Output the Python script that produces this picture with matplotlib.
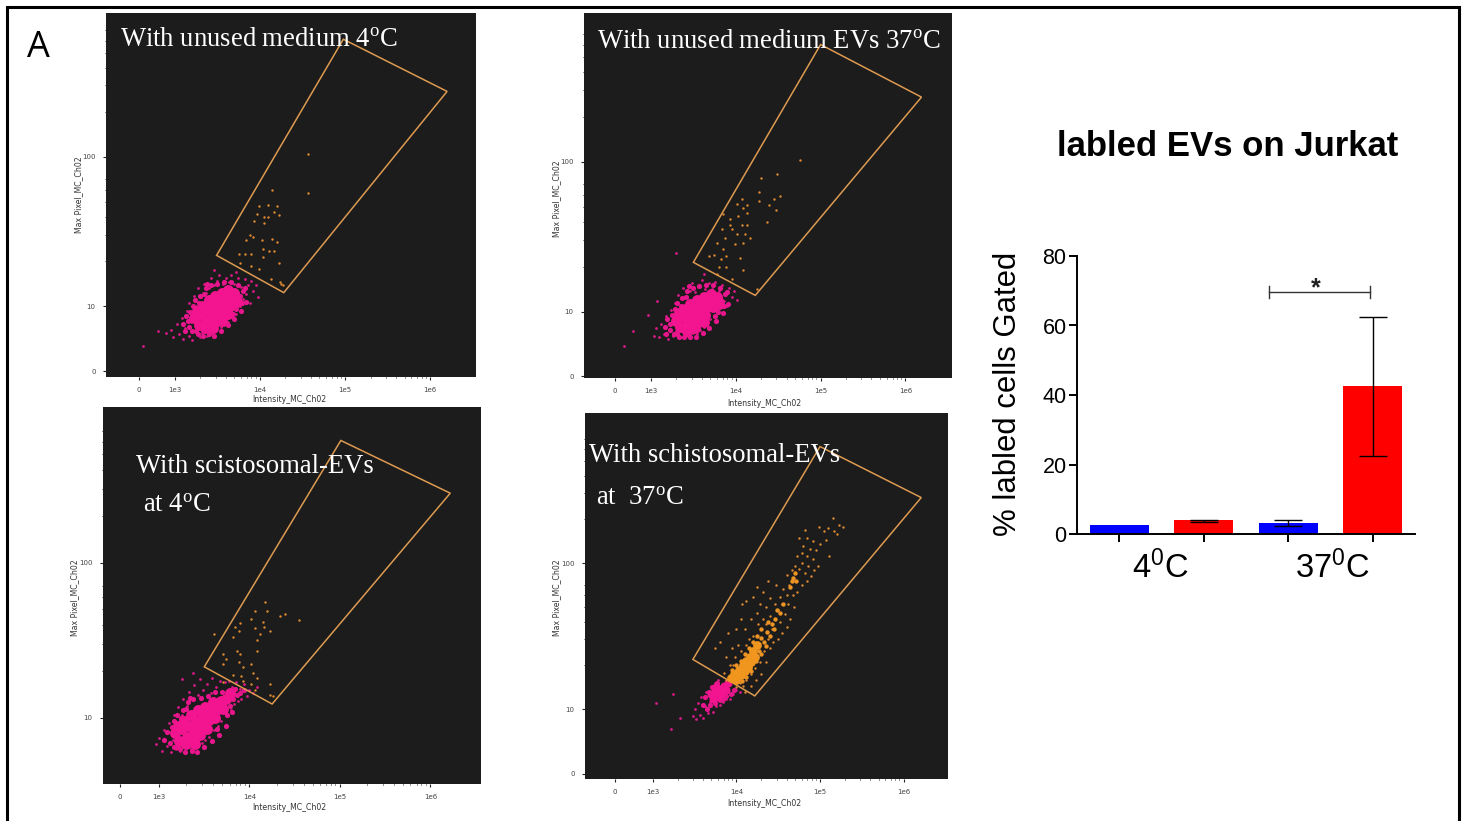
import matplotlib
matplotlib.use('Agg')
import numpy as np
import matplotlib.pyplot as plt
from matplotlib.patches import Polygon, Rectangle

W, H = 1467, 821

# bar chart values
bar_pos = [0, 1, 2, 3]
bar_vals = [2.6, 4.0, 3.3, 42.5]
bar_err_low = [0, 0.6, 0.9, 20.1]
bar_err_high = [0, 0.1, 0.8, 20.0]
bar_colors = ['#0000ff', '#ff0000', '#0000ff', '#ff0000']
y_ticks = [0, 20, 40, 60, 80]
sig_x = [1.775, 2.97]
sig_y = 69.6

# flow panels: log10(intensity), log10(max pixel)
gate_a = [(3.49, 1.34), (4.98, 2.79), (6.20, 2.44), (4.28, 1.09)]
gate_b = [(3.50, 1.33), (5.00, 2.78), (6.19, 2.43), (4.23, 1.11)]
gate_c = [(3.50, 1.33), (5.01, 2.79), (6.22, 2.45), (4.25, 1.09)]
gate_d = [(3.48, 1.34), (5.00, 2.80), (6.21, 2.45), (4.22, 1.09)]

core_a = [(3.22, 0.92), (3.28, 0.87), (3.30, 0.95), (3.33, 1.00), (3.36, 0.90), (3.38, 0.97), (3.40, 1.04),
          (3.42, 0.87), (3.44, 0.94), (3.46, 1.00), (3.47, 1.07), (3.49, 0.90), (3.51, 0.97), (3.53, 1.03),
          (3.55, 1.09), (3.57, 0.95), (3.58, 1.00), (3.60, 1.05), (3.63, 1.11), (3.65, 1.00), (3.67, 1.05),
          (3.70, 1.09), (3.35, 0.85), (3.45, 0.85), (3.55, 0.90), (3.26, 0.97), (3.73, 1.03), (3.62, 0.95)]
mid_a = [(3.10, 0.88), (3.13, 0.93), (3.16, 0.86), (3.18, 0.96), (3.20, 0.83), (3.21, 1.00), (3.24, 1.04),
         (3.27, 0.81), (3.30, 1.07), (3.33, 0.80), (3.36, 1.12), (3.40, 0.81), (3.42, 1.14), (3.46, 0.80),
         (3.50, 1.15), (3.54, 0.83), (3.58, 1.16), (3.62, 0.87), (3.66, 1.16), (3.70, 0.91), (3.74, 1.14),
         (3.78, 0.97), (3.80, 1.10), (3.84, 1.03), (3.72, 0.98), (3.76, 1.07), (3.15, 0.90), (3.12, 0.83),
         (3.68, 0.95), (3.79, 1.02), (3.83, 1.12), (3.28, 1.02), (3.34, 1.08), (3.25, 0.83), (3.38, 1.15)]
edge_a = [(2.90, 0.82), (2.95, 0.84), (2.98, 0.79), (3.02, 0.88), (3.05, 0.81), (3.08, 0.92), (3.10, 0.78),
          (3.12, 0.85), (3.14, 0.97), (3.16, 0.80), (3.17, 1.02), (3.19, 0.89), (3.20, 0.77), (3.22, 1.07),
          (3.24, 0.83), (3.25, 1.00), (3.27, 1.12), (3.29, 0.79), (3.31, 1.06), (3.32, 0.82), (3.34, 1.15),
          (3.36, 1.09), (3.38, 0.80), (3.40, 1.12), (3.42, 1.19), (3.44, 0.82), (3.46, 1.14), (3.48, 0.84),
          (3.50, 1.17), (3.52, 1.21), (3.54, 0.86), (3.56, 1.15), (3.58, 0.87), (3.60, 1.19), (3.62, 0.89),
          (3.64, 1.16), (3.66, 1.21), (3.68, 0.92), (3.70, 1.15), (3.72, 0.95), (3.74, 1.19), (3.76, 1.00),
          (3.78, 1.13), (3.80, 1.05), (3.82, 1.18), (3.84, 1.08), (3.86, 1.14), (3.88, 1.02), (3.90, 1.17),
          (3.92, 1.10), (3.95, 1.14), (3.98, 1.06), (2.80, 0.83), (2.62, 0.73), (3.72, 1.23), (3.46, 1.24)]
orange_a = [(4.14, 1.78), (4.10, 1.68), (3.99, 1.67), (4.20, 1.67), (4.16, 1.63), (3.96, 1.62), (4.05, 1.60),
            (4.09, 1.60), (4.22, 1.61), (3.93, 1.57), (4.05, 1.56), (3.88, 1.48), (3.92, 1.46), (3.84, 1.44),
            (4.02, 1.44), (4.14, 1.45), (4.20, 1.43), (4.03, 1.38), (4.11, 1.37), (4.16, 1.37), (3.75, 1.35),
            (3.82, 1.35), (3.90, 1.35), (4.03, 1.33), (3.89, 1.27), (3.99, 1.25), (4.22, 1.29), (3.77, 1.29),
            (4.13, 1.18), (4.57, 2.02), (4.56, 1.76), (4.25, 1.15), (4.23, 1.16), (4.27, 1.14)]

core_b = [(3.30, 0.94), (3.34, 0.90), (3.36, 0.97), (3.40, 1.02), (3.42, 0.92), (3.44, 0.98), (3.46, 1.05),
          (3.48, 0.90), (3.50, 0.96), (3.52, 1.02), (3.54, 1.08), (3.56, 0.93), (3.58, 0.99), (3.60, 1.05),
          (3.62, 1.10), (3.64, 0.98), (3.66, 1.03), (3.68, 1.08), (3.71, 1.12), (3.73, 1.03), (3.75, 1.07),
          (3.78, 1.10), (3.42, 0.87), (3.52, 0.89), (3.62, 0.93), (3.33, 0.99), (3.80, 1.05)]
mid_b = [(3.16, 0.90), (3.19, 0.95), (3.22, 0.88), (3.25, 0.98), (3.27, 0.85), (3.28, 1.02), (3.31, 1.06),
         (3.33, 0.83), (3.36, 1.09), (3.39, 0.83), (3.42, 1.14), (3.46, 0.83), (3.49, 1.16), (3.53, 0.83),
         (3.57, 1.17), (3.61, 0.86), (3.65, 1.18), (3.69, 0.89), (3.73, 1.18), (3.77, 0.94), (3.81, 1.16),
         (3.85, 0.99), (3.87, 1.12), (3.91, 1.05), (3.79, 1.00), (3.83, 1.08), (3.22, 0.92), (3.18, 0.85),
         (3.75, 0.97), (3.86, 1.04), (3.90, 1.13), (3.35, 1.04), (3.41, 1.10), (3.31, 0.85), (3.45, 1.17)]
edge_b = [(3.03, 0.84), (3.06, 0.89), (3.09, 0.83), (3.12, 0.92), (3.15, 0.85), (3.18, 0.97), (3.20, 0.82),
          (3.22, 0.88), (3.24, 1.01), (3.26, 0.84), (3.28, 1.06), (3.30, 0.87), (3.32, 1.11), (3.34, 0.83),
          (3.36, 1.04), (3.38, 1.16), (3.40, 0.85), (3.42, 1.10), (3.44, 0.84), (3.46, 1.14), (3.48, 1.19),
          (3.50, 0.86), (3.52, 1.13), (3.54, 0.85), (3.56, 1.17), (3.58, 0.88), (3.60, 1.21), (3.62, 0.90),
          (3.64, 1.15), (3.66, 0.92), (3.68, 1.19), (3.70, 0.95), (3.72, 1.15), (3.74, 0.97), (3.76, 1.20),
          (3.78, 1.00), (3.80, 1.14), (3.82, 1.03), (3.84, 1.18), (3.86, 1.07), (3.88, 1.13), (3.90, 1.04),
          (3.92, 1.16), (3.95, 1.10), (3.98, 1.14), (4.02, 1.08), (2.68, 0.77), (2.79, 0.87), (2.97, 0.98),
          (3.07, 1.07), (3.30, 1.39), (3.62, 1.25)]
orange_b = [(4.76, 2.01), (4.49, 1.92), (4.30, 1.89), (4.27, 1.80), (4.52, 1.77), (4.27, 1.74), (4.45, 1.75),
            (4.07, 1.75), (4.13, 1.71), (4.01, 1.72), (4.39, 1.71), (4.47, 1.68), (4.13, 1.66), (4.09, 1.69),
            (3.85, 1.65), (3.93, 1.62), (4.03, 1.64), (4.37, 1.60), (4.07, 1.58), (3.93, 1.58), (3.84, 1.55),
            (3.95, 1.55), (4.13, 1.58), (4.01, 1.52), (4.11, 1.52), (3.87, 1.49), (3.78, 1.46), (4.17, 1.49),
            (3.85, 1.42), (3.99, 1.45), (4.09, 1.46), (3.74, 1.38), (3.89, 1.37), (4.05, 1.36), (3.68, 1.37),
            (3.80, 1.30), (3.89, 1.30), (4.09, 1.28), (3.82, 1.35), (3.78, 1.25), (3.95, 1.22), (4.25, 1.15)]

core_c = [(3.18, 0.90), (3.22, 0.85), (3.25, 0.93), (3.28, 0.98), (3.31, 0.88), (3.33, 0.95), (3.35, 1.02),
          (3.37, 0.86), (3.39, 0.92), (3.41, 0.98), (3.43, 1.05), (3.45, 0.89), (3.47, 0.95), (3.49, 1.01),
          (3.51, 1.07), (3.53, 0.93), (3.55, 0.99), (3.57, 1.04), (3.60, 1.10), (3.62, 1.00), (3.65, 1.06),
          (3.68, 1.11), (3.71, 1.06), (3.74, 1.12), (3.78, 1.16), (3.30, 0.83), (3.40, 0.83), (3.21, 0.95)]
mid_c = [(3.06, 0.86), (3.09, 0.91), (3.12, 0.84), (3.14, 0.94), (3.16, 0.81), (3.17, 0.98), (3.20, 1.02),
         (3.23, 0.80), (3.26, 1.05), (3.29, 0.78), (3.32, 1.10), (3.36, 0.79), (3.38, 1.12), (3.42, 0.78),
         (3.46, 1.13), (3.50, 0.81), (3.54, 1.14), (3.58, 0.85), (3.62, 1.17), (3.66, 0.89), (3.70, 1.17),
         (3.74, 0.95), (3.78, 1.08), (3.82, 1.12), (3.86, 1.15), (3.90, 1.16), (3.94, 1.18), (3.81, 1.04),
         (3.64, 0.93), (3.75, 1.02), (3.84, 1.19), (3.24, 1.00), (3.30, 1.06), (3.21, 0.81), (3.34, 1.13)]
edge_c = [(2.97, 0.83), (3.00, 0.87), (3.03, 0.79), (3.06, 0.92), (3.09, 0.82), (3.11, 0.97), (3.13, 0.78),
          (3.15, 0.86), (3.17, 1.02), (3.19, 0.80), (3.21, 1.07), (3.23, 0.79), (3.25, 1.02), (3.27, 1.12),
          (3.29, 0.81), (3.31, 1.08), (3.33, 1.17), (3.35, 0.80), (3.37, 1.12), (3.39, 1.21), (3.41, 0.82),
          (3.43, 1.15), (3.45, 1.25), (3.47, 0.84), (3.49, 1.18), (3.51, 0.86), (3.53, 1.22), (3.55, 0.88),
          (3.57, 1.16), (3.59, 1.26), (3.61, 0.92), (3.63, 1.20), (3.65, 0.95), (3.67, 1.24), (3.69, 0.98),
          (3.71, 1.17), (3.73, 1.23), (3.75, 1.01), (3.77, 1.24), (3.79, 1.05), (3.81, 1.20), (3.83, 1.09),
          (3.85, 1.23), (3.87, 1.11), (3.89, 1.19), (3.91, 1.12), (3.94, 1.22), (3.97, 1.14), (4.00, 1.18),
          (4.04, 1.16), (4.08, 1.20), (3.25, 1.25), (3.37, 1.29)]
orange_c = [(4.17, 1.75), (4.06, 1.69), (4.19, 1.69), (4.34, 1.66), (4.39, 1.67), (4.55, 1.63), (4.02, 1.64),
            (4.15, 1.62), (3.90, 1.61), (3.84, 1.59), (4.06, 1.58), (4.16, 1.59), (4.23, 1.56), (3.88, 1.56),
            (4.12, 1.54), (3.82, 1.52), (4.08, 1.50), (3.61, 1.54), (3.86, 1.43), (3.71, 1.41), (3.90, 1.41),
            (4.08, 1.43), (3.74, 1.38), (3.88, 1.36), (3.71, 1.35), (3.93, 1.33), (4.02, 1.35), (3.82, 1.28),
            (3.91, 1.27), (4.04, 1.29), (4.08, 1.26), (3.93, 1.24), (4.02, 1.22), (4.23, 1.22), (3.71, 1.23),
            (4.06, 1.18), (4.23, 1.15), (4.26, 1.14)]

core_d = [(3.72, 1.07), (3.75, 1.12), (3.78, 1.08), (3.80, 1.14), (3.83, 1.11), (3.85, 1.16), (3.88, 1.13),
          (3.90, 1.18), (3.76, 1.15), (3.70, 1.10)]
mid_d = [(3.60, 1.03), (3.63, 1.08), (3.65, 1.00), (3.67, 1.12), (3.69, 1.03), (3.71, 1.15), (3.74, 1.04),
         (3.77, 1.18), (3.80, 1.06), (3.84, 1.07), (3.88, 1.09), (3.93, 1.10), (3.97, 1.13)]
edge_d = [(3.48, 0.95), (3.50, 1.00), (3.52, 0.93), (3.54, 1.04), (3.56, 0.96), (3.58, 1.08), (3.60, 0.94),
          (3.62, 1.02), (3.64, 1.12), (3.66, 0.97), (3.68, 1.05), (3.70, 1.15), (3.72, 0.98), (3.74, 1.18),
          (3.76, 1.02), (3.78, 1.20), (3.80, 1.03), (3.84, 1.05), (3.88, 1.07), (3.92, 1.07), (3.96, 1.10),
          (4.00, 1.13), (4.04, 1.12), (3.04, 1.04), (3.24, 1.10), (3.22, 0.86), (3.33, 0.94)]
dense_d = [(3.93, 1.21), (3.97, 1.24), (4.00, 1.20), (4.03, 1.27), (4.05, 1.23), (4.08, 1.30), (4.10, 1.26),
           (4.12, 1.33), (4.14, 1.29), (4.16, 1.36), (4.18, 1.32), (4.20, 1.40), (4.22, 1.36), (4.25, 1.44)]
spread_d = [(3.95, 1.27), (4.00, 1.30), (4.05, 1.33), (4.07, 1.19), (4.12, 1.22), (4.18, 1.26), (4.10, 1.38),
            (4.15, 1.42), (4.20, 1.46), (4.24, 1.33), (4.30, 1.38), (4.35, 1.43), (4.25, 1.50), (4.30, 1.55),
            (4.40, 1.50), (4.45, 1.55), (4.38, 1.60), (4.27, 1.40), (4.30, 1.49), (4.33, 1.46), (4.37, 1.53),
            (4.42, 1.58), (4.46, 1.62), (4.52, 1.66), (4.68, 1.90), (4.71, 1.88), (4.66, 1.88), (4.70, 1.93),
            (4.64, 1.84), (4.48, 1.68), (4.56, 1.72)]
orange_d = [(5.15, 2.31), (5.23, 2.26), (5.17, 2.22), (5.28, 2.25), (5.10, 2.24), (5.20, 2.20), (5.05, 2.22),
            (4.99, 2.25), (4.82, 2.23), (4.75, 2.17), (4.85, 2.17), (4.92, 2.15), (5.00, 2.13), (5.07, 2.16),
            (4.80, 2.12), (4.88, 2.10), (4.95, 2.09), (5.11, 2.05), (4.78, 2.07), (4.84, 2.05), (4.92, 2.03),
            (4.72, 2.05), (4.79, 2.00), (4.86, 1.98), (4.93, 1.95), (4.98, 1.98), (4.75, 1.96), (4.70, 1.98),
            (4.66, 1.95), (4.82, 1.93), (4.89, 1.91), (4.60, 1.92), (4.63, 1.85), (4.78, 1.85), (4.84, 1.88),
            (4.56, 1.82), (4.60, 1.78), (4.68, 1.78), (4.73, 1.80), (4.52, 1.77), (4.47, 1.85), (4.55, 1.72),
            (4.62, 1.72), (4.69, 1.70), (4.46, 1.72), (4.38, 1.88), (4.32, 1.80), (4.25, 1.84), (4.40, 1.76),
            (4.50, 1.68), (4.58, 1.65), (4.64, 1.62), (4.35, 1.70), (4.28, 1.72), (4.20, 1.77), (4.12, 1.74),
            (4.40, 1.64), (4.52, 1.60), (4.60, 1.56), (4.32, 1.62), (4.25, 1.66), (4.07, 1.72), (4.43, 1.55),
            (4.54, 1.52), (4.38, 1.48), (4.50, 1.48), (4.35, 1.58), (4.26, 1.58), (4.18, 1.62), (4.05, 1.62),
            (3.99, 1.55), (4.10, 1.55), (4.20, 1.50), (4.44, 1.46), (4.33, 1.40), (4.40, 1.42), (4.28, 1.32),
            (4.35, 1.32), (4.22, 1.28), (4.30, 1.24), (4.18, 1.24), (4.24, 1.20), (4.12, 1.20), (4.17, 1.16),
            (4.08, 1.16), (4.05, 1.40), (4.12, 1.44), (3.98, 1.36), (4.02, 1.44), (3.92, 1.30), (3.88, 1.36),
            (3.95, 1.42), (3.80, 1.46), (3.74, 1.42), (3.90, 1.52), (3.85, 1.25), (3.88, 1.20), (4.00, 1.15),
            (4.04, 1.18), (4.10, 1.12), (3.96, 1.30), (4.15, 1.48)]

# panel: gate, pink layers, orange layers, axes box px, limits, tick positions
panels = [
    dict(gate=gate_a, core=core_a, mid=mid_a, edge=edge_a, orange=orange_a, dense=[], spread=[],
         core_s=62, box=(106, 13, 476, 377), xlim=(2.19, 6.54), ylim=(0.524, 2.966),
         zero_x=2.576, zero_y=0.564, xlabel=(289, 399), ylabel=(79, 195)),
    dict(gate=gate_b, core=core_b, mid=mid_b, edge=edge_b, orange=orange_b, dense=[], spread=[],
         core_s=62, box=(584, 13, 952, 378), xlim=(2.21, 6.55), ylim=(0.56, 2.99),
         zero_x=2.575, zero_y=0.573, xlabel=(764, 403), ylabel=(557, 199)),
    dict(gate=gate_c, core=core_c, mid=mid_c, edge=edge_c, orange=orange_c, dense=[], spread=[],
         core_s=62, box=(103, 407, 481, 784), xlim=(2.38, 6.56), ylim=(0.574, 3.006),
         zero_x=2.57, zero_y=None, xlabel=(289, 807), ylabel=(75, 598)),
    dict(gate=gate_d, core=core_d, mid=mid_d, edge=edge_d, orange=orange_d, dense=dense_d, spread=spread_d,
         core_s=34, box=(585, 413, 948, 779), xlim=(2.19, 6.53), ylim=(0.52, 3.03),
         zero_x=2.545, zero_y=0.555, xlabel=(764, 803), ylabel=(557, 598)),
]

minor_offsets = [0.30, 0.48, 0.60, 0.70, 0.78, 0.85, 0.90, 0.95]


def fx(x):
    return x / W


def fy(y):
    return 1 - y / H


def draw_points(ax, pts, size, color, z):
    if len(pts) == 0:
        return
    pts = np.array(pts)
    ax.scatter(pts[:, 0], pts[:, 1], s=size, color=color, linewidths=0, zorder=z)


def draw_panel(fig, p):
    x0, y0, x1, y1 = p['box']
    ax = fig.add_axes([fx(x0), fy(y1), (x1 - x0) / W, (y1 - y0) / H])
    ax.set_facecolor('#1c1c1c')
    for s in ax.spines.values():
        s.set_visible(False)
    ax.set_xlim(p['xlim'])
    ax.set_ylim(p['ylim'])

    xt = [p['zero_x'], 3, 4, 5, 6]
    ax.set_xticks(xt)
    ax.set_xticklabels(['0', '1e3', '1e4', '1e5', '1e6'], fontsize=5, color='#444444')
    yt = [1, 2]
    yl = ['10', '100']
    if p['zero_y'] is not None:
        yt = [p['zero_y']] + yt
        yl = ['0'] + yl
    ax.set_yticks(yt)
    ax.set_yticklabels(yl, fontsize=5, color='#444444')
    ax.set_xticks([d + m for d in [3, 4, 5] for m in minor_offsets], minor=True)
    ax.set_yticks([1 + m for m in minor_offsets[:6]] + [2 + m for m in minor_offsets[:6]], minor=True)
    ax.tick_params(which='major', length=2.5, width=0.8, pad=5, color='#222222')
    ax.tick_params(which='minor', length=1, width=0.7, color='#222222')

    ax.add_patch(Polygon(p['gate'], closed=True, fill=False, edgecolor='#dd9a50', lw=1.1, zorder=4))
    draw_points(ax, p['edge'], 4, '#d81a88', 2)
    draw_points(ax, p['mid'], 14, '#e8168c', 2)
    draw_points(ax, p['core'], p['core_s'], '#f3148f', 3)
    draw_points(ax, p['orange'], 3, '#e08a30', 5)
    draw_points(ax, p['spread'], 10, '#ee9424', 5)
    draw_points(ax, p['dense'], 40, '#f0951e', 5)

    fig.text(fx(p['xlabel'][0]), fy(p['xlabel'][1]), 'Intensity_MC_Ch02', fontsize=5.6,
             color='#333333', ha='center', va='center')
    fig.text(fx(p['ylabel'][0]), fy(p['ylabel'][1]), 'Max Pixel_MC_Ch02', fontsize=5.6,
             color='#333333', ha='center', va='center', rotation=90)


fig = plt.figure(figsize=(W / 100, H / 100), dpi=100, facecolor='white')
plt.rcParams['mathtext.default'] = 'regular'

for p in panels:
    draw_panel(fig, p)

# outer frame, runs past the bottom edge
fig.add_artist(Rectangle((fx(7), fy(840)), (1459 - 7) / W, (840 - 7) / H, transform=fig.transFigure,
                         fill=False, edgecolor='black', lw=2.2))

fig.text(fx(27), fy(48), 'A', fontsize=26, family='Open Sans', color='black', va='center', ha='left')

serif = dict(family='Liberation Serif', color='white', fontsize=19.2, va='center', ha='left', zorder=10)
fig.text(fx(120), fy(39), 'With unused medium 4$^{o}$C', **serif)
fig.text(fx(597), fy(41), 'With unused medium EVs 37$^{o}$C', **serif)
fig.text(fx(136), fy(466), 'With scistosomal-EVs', **serif)
fig.text(fx(143), fy(506), 'at 4$^{o}$C', **serif)
fig.text(fx(589), fy(455), 'With schistosomal-EVs', **serif)
fig.text(fx(596), fy(498), 'at  37$^{o}$C', **serif)

fig.text(fx(1228), fy(147), 'labled EVs on Jurkat', family='Liberation Sans', fontweight='bold',
         fontsize=25, ha='center', va='center', color='black')

# bar chart
ax = fig.add_axes([fx(1077), fy(534), (1415 - 1077) / W, (534 - 256) / H])
ax.set_facecolor('none')
ax.bar(bar_pos, bar_vals, width=0.7, color=bar_colors, zorder=2)
ax.errorbar(bar_pos[1:], bar_vals[1:], yerr=[bar_err_low[1:], bar_err_high[1:]], fmt='none',
            ecolor='black', elinewidth=1.0, capsize=10, capthick=1.0, zorder=3)
ax.set_xlim(-0.5, 3.5)
ax.set_ylim(0, 80)
ax.set_yticks(y_ticks)
ax.set_xticks(bar_pos)
ax.set_xticklabels([])
ax.tick_params(axis='y', labelsize=15.5, length=5.5, width=1.4, pad=2)
ax.tick_params(axis='x', length=5.5, width=1.4)
for lab in ax.get_yticklabels():
    lab.set_family('Liberation Sans')
ax.spines['top'].set_visible(False)
ax.spines['right'].set_visible(False)
ax.spines['left'].set_linewidth(1.4)
ax.spines['bottom'].set_linewidth(1.4)

ax.plot(sig_x, [sig_y, sig_y], color='#333333', lw=1.0, zorder=3)
for sx in sig_x:
    ax.plot([sx, sx], [sig_y - 1.7, sig_y + 1.7], color='#333333', lw=1.0)
ax.text(sum(sig_x) / 2 - 0.045, sig_y + 1.2, '*', fontsize=18, family='Liberation Sans', fontweight='bold',
        ha='center', va='center', color='#222222')

fig.text(fx(1008), fy(394), '% labled cells Gated', rotation=90, family='Liberation Sans', fontsize=22.4,
         ha='center', va='center', color='black')
fig.text(fx(1160), fy(568), '4$^{0}$C', family='Liberation Sans', fontsize=23.5, ha='center', va='center')
fig.text(fx(1332), fy(568), '37$^{0}$C', family='Liberation Sans', fontsize=23.5, ha='center', va='center')

fig.savefig('out.png', dpi=100)
